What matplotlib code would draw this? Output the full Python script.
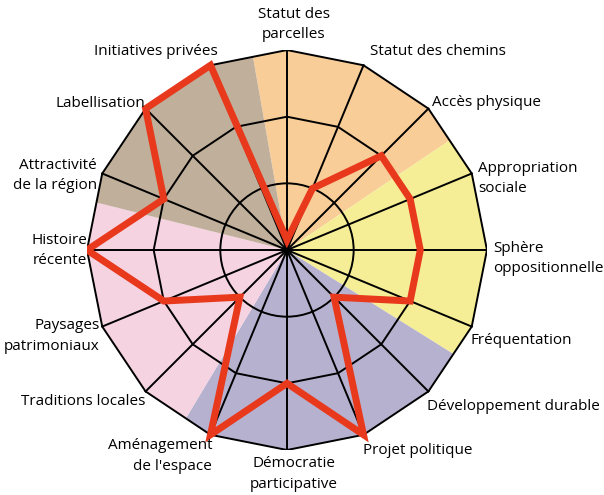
import numpy as np
import matplotlib
matplotlib.use("Agg")
from matplotlib import pyplot as plt
from matplotlib.patches import Polygon, Circle

# axes, clockwise from the top
labels = ["Statut des\nparcelles", "Statut des chemins", "Accès physique",
          "Appropriation\nsociale", "Sphère\noppositionnelle", "Fréquentation",
          "Développement durable", "Projet politique", "Démocratie\nparticipative",
          "Aménagement\nde l'espace", "Traditions locales", "Paysages\npatrimoniaux",
          "Histoire\nrécente", "Attractivité\nde la région", "Labellisation",
          "Initiatives privées"]
values = [0.15, 1, 2, 2, 2, 2, 1, 3, 2, 3, 1, 2, 3, 2, 3, 3]
rings = [1, 2, 3]

# background sectors (start, end in degrees clockwise from top)
sector_start = [-10, 56, 122, 211, 284]
sector_end = [56, 122, 211, 284, 350]
sector_colors = ["#F8CD98", "#F5EE96", "#B7B1D0", "#F5D3E1", "#C0AF9A"]

n = len(labels)
ang = np.arange(n) * 2 * np.pi / n

def xy(r, a):
    return r * np.sin(a), r * np.cos(a)

fig = plt.figure(figsize=(6.04, 4.95), dpi=100)
ax = fig.add_axes([0.144, 0.0909, 0.6623, 0.808])
ax.set_xlim(-3, 3)
ax.set_ylim(-3, 3)
ax.set_aspect("equal")
ax.axis("off")

outer = np.column_stack(xy(rings[-1], ang))
clip = Polygon(outer, closed=True, facecolor="none", edgecolor="none")
ax.add_patch(clip)

for s, e, c in zip(sector_start, sector_end, sector_colors):
    t = np.radians(np.linspace(s, e, 60))
    px, py = xy(5, t)
    pts = np.vstack([[0, 0], np.column_stack([px, py])])
    w = Polygon(pts, closed=True, facecolor=c, edgecolor="none", zorder=1)
    ax.add_patch(w)
    w.set_clip_path(clip)

# grid
for a in ang:
    x, y = xy(rings[-1], a)
    ax.plot([0, x], [0, y], color="black", lw=1.4, zorder=2)
ax.add_patch(Circle((0, 0), rings[0], fill=False, edgecolor="black", lw=1.4, zorder=2))
for r in rings[1:]:
    ax.add_patch(Polygon(np.column_stack(xy(r, ang)), closed=True, fill=False,
                         edgecolor="black", lw=1.4, zorder=2, joinstyle="miter"))

# data
dx, dy = xy(np.array(values), ang)
ax.add_patch(Polygon(np.column_stack([dx, dy]), closed=True, fill=False,
                     edgecolor="#E8391D", lw=5, zorder=3, joinstyle="miter"))

# labels
offs = [(0.1, 3.38, "center"), (1.24, 2.98, "left"), (2.17, 2.22, "left"),
        (2.87, 1.07, "left"), (3.09, -0.13, "left"), (2.76, -1.36, "left"),
        (2.1, -2.34, "left"), (1.14, -3.0, "left"), (0.1, -3.36, "center"),
        (-1.12, -3.09, "right"), (-2.13, -2.27, "right"), (-2.81, -1.29, "right"),
        (-3.0, -0.01, "right"), (-2.85, 1.12, "right"), (-2.13, 2.2, "right"),
        (-1.04, 2.98, "right")]
for lab, (x, y, ha) in zip(labels, offs):
    ax.text(x, y, lab, ha=ha, va="center", fontsize=11, family="Open Sans",
            color="black", linespacing=1.5, clip_on=False)

fig.savefig("out.png", dpi=100)
